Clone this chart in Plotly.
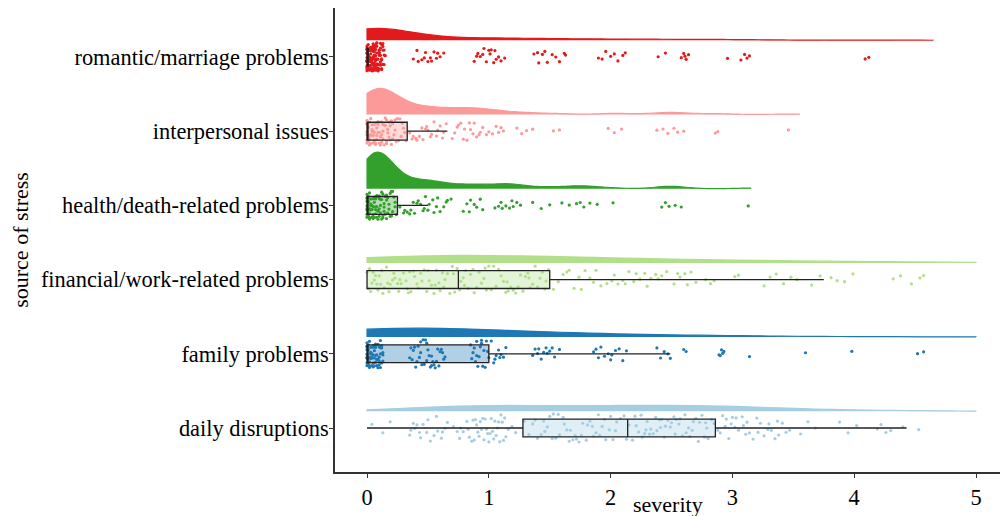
import plotly.graph_objects as go

categories = ["daily disruptions", "family problems", "financial/work-related problems",
              "health/death-related problems", "interpersonal issues", "romantic/marriage problems"]
colors = ["#A6CEE3", "#1F78B4", "#B2DF8A", "#33A02C", "#FB9A99", "#E31A1C"]
x_ticks = [0, 1, 2, 3, 4, 5]

# box statistics (same order as categories)
box_q1 = [1.28, 0.0, 0.0, 0.0, 0.0, 0.0]
box_median = [2.14, 0.0, 0.75, 0.0, 0.0, 0.0]
box_q3 = [2.86, 1.0, 1.5, 0.25, 0.33, 0.01]
box_lower = [0.0, 0.0, 0.0, 0.0, 0.0, 0.0]
box_upper = [4.43, 2.49, 3.75, 0.5, 0.66, 0.01]
density_end = [5.0, 5.0, 5.0, 3.15, 3.55, 4.65]

daily = [0.04, 0.13, 0.19,
         0.35, 0.38, 0.41, 0.44, 0.46, 0.39, 0.43, 0.36,
         0.49, 0.52, 0.55, 0.58, 0.61, 0.64, 0.66, 0.50, 0.57, 0.62,
         0.71, 0.74, 0.77, 0.79, 0.82, 0.84, 0.86, 0.88, 0.89, 0.91, 0.92, 0.94, 0.95, 0.97, 0.99, 1.00,
         1.02, 1.03, 1.05, 1.07, 1.08, 1.10, 1.12, 1.14, 1.16, 1.19, 1.22, 0.83, 0.90, 0.96, 1.01, 1.06,
         1.11, 0.76, 0.93, 1.04, 0.87, 1.13, 0.98, 1.09,
         1.29, 1.33, 1.36, 1.40, 1.43, 1.46, 1.50, 1.53, 1.55, 1.58, 1.61, 1.64, 1.66, 1.69, 1.72, 1.74,
         1.77, 1.80, 1.83, 1.85, 1.88, 1.91, 1.93, 1.96, 1.99, 2.02, 2.05, 2.08, 2.11, 2.13, 1.38, 1.48,
         1.57, 1.67, 1.76, 1.86, 1.95, 2.04, 1.62, 1.81, 1.71, 1.52, 1.90, 2.00, 1.45,
         2.15, 2.18, 2.20, 2.23, 2.25, 2.28, 2.30, 2.32, 2.35, 2.37, 2.40, 2.42, 2.44, 2.47, 2.49, 2.52,
         2.54, 2.57, 2.59, 2.62, 2.64, 2.67, 2.70, 2.72, 2.75, 2.78, 2.80, 2.83, 2.85, 2.21, 2.33, 2.45,
         2.56, 2.68, 2.79, 2.26, 2.38, 2.50, 2.61, 2.73, 2.41, 2.29, 2.65, 2.53, 2.77,
         2.88, 2.90, 2.92, 2.94, 2.97, 3.00, 3.02, 3.05, 3.08, 3.11, 3.14, 3.17, 3.20, 3.23, 3.26, 3.29,
         3.32, 3.35, 3.38, 3.41, 3.44, 3.47, 2.95, 3.03, 3.12, 3.21, 3.30, 2.99, 3.09, 3.37,
         3.56, 3.62, 3.68, 3.88, 3.95, 4.02, 4.19, 4.22, 4.26, 4.30, 4.40, 4.53]

family = [0.00, 0.02, 0.05, 0.08, 0.11, 0.01, 0.04, 0.13, 0.07, 0.00, 0.10, 0.03, 0.06, 0.12, 0.02,
          0.09, 0.00, 0.05, 0.11, 0.01, 0.08, 0.04, 0.00, 0.13, 0.06, 0.03, 0.10, 0.02, 0.07, 0.00,
          0.12, 0.05, 0.09, 0.01, 0.04, 0.11, 0.00, 0.06, 0.08, 0.03, 0.13, 0.02, 0.07, 0.00, 0.10,
          0.05, 0.01, 0.09, 0.04, 0.12, 0.00, 0.06, 0.03, 0.11, 0.08, 0.02, 0.00, 0.07, 0.05, 0.10,
          0.35, 0.37, 0.39, 0.41, 0.43, 0.45, 0.47, 0.49, 0.51, 0.53, 0.55, 0.57, 0.59, 0.61, 0.63,
          0.36, 0.40, 0.44, 0.48, 0.52, 0.56, 0.60, 0.38, 0.42, 0.46, 0.50, 0.54, 0.58, 0.62, 0.64,
          0.44, 0.49, 0.53,
          0.85, 0.87, 0.88, 0.90, 0.91, 0.93, 0.94, 0.96, 0.97, 0.99, 0.86, 0.89, 0.92, 0.95, 0.98,
          1.00, 0.90, 0.94,
          1.02, 1.04, 1.06, 1.08, 1.10, 1.12, 1.14, 1.05, 1.09,
          1.36, 1.38, 1.41, 1.43, 1.45, 1.48, 1.50, 1.52, 1.54, 1.40, 1.47, 1.58,
          1.86, 1.88, 1.92, 1.95, 1.98, 2.01, 2.04, 2.07, 2.10, 2.13, 1.90, 2.00,
          2.38, 2.41, 2.44, 2.47, 2.49, 2.60, 2.62, 2.90, 2.91, 2.92, 2.89, 2.93, 3.14, 3.60, 3.98,
          4.52, 4.57]

financial = [0.01, 0.05, 0.03, 0.09, 0.12, 0.00, 0.16, 0.07, 0.21, 0.14, 0.25, 0.19, 0.04, 0.28, 0.11,
             0.33, 0.23, 0.38, 0.08, 0.30, 0.42, 0.17, 0.36, 0.47, 0.26, 0.51, 0.02, 0.44, 0.55, 0.32,
             0.60, 0.13, 0.49, 0.64, 0.39, 0.68, 0.57, 0.22, 0.72, 0.62, 0.77, 0.45, 0.81, 0.70, 0.35,
             0.85, 0.66, 0.90, 0.79, 0.53, 0.94, 0.74, 0.98, 0.87, 0.59, 1.02, 0.83, 1.06, 0.92, 1.10,
             0.96, 1.14, 0.71, 1.18, 1.04, 1.22, 0.88, 1.26, 1.12, 1.30, 1.00, 1.34, 1.20, 1.38, 0.80,
             1.42, 1.16, 1.46, 1.28, 1.49, 1.08, 1.36, 0.06, 1.24, 0.41, 1.32, 0.27, 1.44, 0.63, 1.40,
             0.18, 0.97, 0.50, 1.47, 0.76, 0.10, 1.15, 0.56, 0.34, 1.33,
             1.53, 1.57, 1.61, 1.66, 1.70, 1.74, 1.79, 1.83, 1.88, 1.92, 1.97, 2.01, 2.06, 2.10, 2.15,
             2.19, 2.24, 2.28, 2.33, 2.37, 2.42, 2.46, 1.64, 1.86, 2.03, 2.21, 2.39, 1.76, 2.12, 2.30,
             2.52, 2.57, 2.61, 2.66, 2.70, 2.78, 2.85, 3.02, 3.05, 3.26, 3.31, 3.36, 3.42, 3.48, 3.53,
             3.65, 3.72, 2.55, 2.63, 2.82,
             3.81, 3.86, 3.92, 3.99, 4.32, 4.38, 4.47, 4.54, 4.57]

health = [0.00, 0.02, 0.04, 0.07, 0.10, 0.01, 0.13, 0.05, 0.16, 0.03, 0.20, 0.08, 0.00, 0.11, 0.23,
          0.06, 0.14, 0.02, 0.18, 0.09, 0.00, 0.12, 0.04, 0.21, 0.07, 0.15, 0.01, 0.10, 0.24, 0.05,
          0.17, 0.03, 0.08, 0.00, 0.13, 0.19, 0.06, 0.11, 0.02, 0.22, 0.09, 0.00, 0.14, 0.04, 0.16,
          0.07, 0.01, 0.12, 0.20, 0.05, 0.10, 0.03, 0.00, 0.18, 0.08, 0.13, 0.02, 0.23, 0.06, 0.15,
          0.00, 0.11, 0.04, 0.09, 0.17, 0.01, 0.07, 0.21, 0.03, 0.12, 0.05, 0.00, 0.14, 0.08, 0.19,
          0.02, 0.10, 0.06, 0.16, 0.00,
          0.27, 0.30, 0.33, 0.36, 0.38, 0.41, 0.44, 0.46, 0.48, 0.51, 0.54, 0.57, 0.60, 0.63, 0.66,
          0.69, 0.31, 0.39, 0.47, 0.55, 0.42, 0.35, 0.50, 0.58, 0.65,
          0.79, 0.82, 0.85, 0.88, 0.90, 0.93, 0.95, 0.84,
          1.05, 1.08, 1.11, 1.14, 1.17, 1.20, 1.23, 1.26, 1.10, 1.19,
          1.36, 1.43, 1.50, 1.60, 1.66, 1.72, 1.78, 1.83, 1.89, 1.75, 2.02, 2.42, 2.45, 2.48, 2.53,
          2.58, 3.13]

interpersonal = [0.00, 0.02, 0.05, 0.08, 0.11, 0.03, 0.14, 0.18, 0.01, 0.07, 0.21, 0.10, 0.04, 0.25, 0.13,
                 0.00, 0.16, 0.06, 0.28, 0.09, 0.02, 0.19, 0.12, 0.31, 0.05, 0.00, 0.15, 0.08, 0.23, 0.03,
                 0.11, 0.17, 0.01, 0.26, 0.07, 0.20, 0.04, 0.13, 0.00, 0.30, 0.09, 0.16, 0.02, 0.22, 0.06,
                 0.12, 0.27, 0.01, 0.18, 0.05, 0.10, 0.00, 0.24, 0.14, 0.03, 0.08, 0.19, 0.32, 0.06, 0.11,
                 0.00, 0.15, 0.04, 0.21, 0.09, 0.02, 0.17, 0.07, 0.29, 0.13, 0.01, 0.05, 0.10, 0.00, 0.23,
                 0.03, 0.16, 0.08, 0.12, 0.20,
                 0.35, 0.38, 0.40, 0.43, 0.45, 0.48, 0.50, 0.52, 0.55, 0.57, 0.60, 0.62, 0.65, 0.37, 0.46,
                 0.53, 0.58, 0.41, 0.63, 0.49,
                 0.70, 0.72, 0.75, 0.77, 0.80, 0.82, 0.85, 0.87, 0.90, 0.92, 0.74, 0.79, 0.84, 0.88, 0.93,
                 0.95, 0.98, 1.00, 1.03, 1.06, 1.08, 1.10, 1.12,
                 1.23, 1.27, 1.31, 1.36, 1.53, 1.58, 1.98, 2.03, 2.09, 2.38, 2.43, 2.47, 2.52, 2.55, 2.60,
                 2.86, 2.88, 3.46]

romantic = [0.00, 0.01, 0.03, 0.05, 0.02, 0.08, 0.11, 0.04, 0.00, 0.06, 0.13, 0.09, 0.01, 0.07, 0.03,
            0.12, 0.00, 0.05, 0.10, 0.02, 0.14, 0.06, 0.01, 0.09, 0.04, 0.00, 0.11, 0.07, 0.03, 0.08,
            0.02, 0.13, 0.05, 0.00, 0.10, 0.06, 0.01, 0.12, 0.04, 0.09, 0.03, 0.00, 0.07, 0.15, 0.02,
            0.05, 0.11, 0.08, 0.01, 0.06, 0.00, 0.04, 0.13, 0.09, 0.02, 0.07, 0.10, 0.03, 0.00, 0.12,
            0.05, 0.08, 0.01, 0.06, 0.14, 0.04, 0.00, 0.09, 0.02, 0.11, 0.07, 0.03, 0.05, 0.00, 0.10,
            0.01, 0.08, 0.06, 0.13, 0.04, 0.02, 0.00, 0.09, 0.12, 0.05, 0.03, 0.07, 0.01, 0.11, 0.06,
            0.00, 0.04, 0.08, 0.02, 0.10, 0.14, 0.05, 0.00, 0.03, 0.07, 0.01, 0.09, 0.06, 0.12, 0.04,
            0.00, 0.02, 0.08, 0.11, 0.05,
            0.38, 0.42, 0.45, 0.47, 0.50, 0.52, 0.55, 0.57, 0.60, 0.48, 0.41, 0.63, 0.53, 0.58,
            0.88, 0.91, 0.93, 0.96, 0.98, 1.00, 1.02, 1.04, 1.06, 1.08, 1.10, 0.95, 1.13, 1.01, 0.90, 1.05,
            1.37, 1.40, 1.44, 1.48, 1.52, 1.55, 1.58, 1.62, 1.46, 1.63, 1.41,
            1.90, 1.93, 1.96, 2.00, 2.03, 2.06, 2.10, 2.12,
            2.39, 2.45, 2.58, 2.60, 2.62, 2.64, 2.61, 2.96, 3.07, 3.10, 3.12, 3.14, 4.09, 4.12]

values = [daily, family, financial, health, interpersonal, romantic]

# styling
bandwidths = [0.45, 0.7, 0.75, 0.11, 0.13, 0.3]
density_height = [0.16, 0.24, 0.2, 0.98, 0.7, 0.32]
density_offset = 0.225
FONT = "Liberation Serif"


def rgba(hex_color, a):
    h = hex_color.lstrip("#")
    r, g, b = int(h[0:2], 16), int(h[2:4], 16), int(h[4:6], 16)
    return f"rgba({r},{g},{b},{a})"


fig = go.Figure()

for i, vals in enumerate(values):
    fig.add_trace(go.Violin(
        x=vals, y0=i + density_offset, orientation="h", side="positive",
        width=density_height[i], scalemode="width", spanmode="manual",
        span=[0, density_end[i]], bandwidth=bandwidths[i], points=False,
        line=dict(color=colors[i], width=1.2), fillcolor=colors[i], opacity=1,
        hoverinfo="skip", showlegend=False, name=categories[i],
    ))

for i, vals in enumerate(values):
    fig.add_trace(go.Box(
        x=vals, y0=i, orientation="h", boxpoints="all", jitter=1, pointpos=0,
        width=0.38, fillcolor="rgba(0,0,0,0)",
        line=dict(color="rgba(0,0,0,0)", width=0), whiskerwidth=0,
        marker=dict(color=colors[i], size=3.2, line=dict(width=0)),
        showlegend=False, name=categories[i],
    ))
    fig.add_trace(go.Box(
        y=[i], q1=[box_q1[i]], median=[box_median[i]], q3=[box_q3[i]],
        lowerfence=[box_lower[i]], upperfence=[box_upper[i]], orientation="h",
        width=0.24, fillcolor=rgba(colors[i], 0.35),
        line=dict(color="#222222", width=1.3), whiskerwidth=0,
        boxpoints=False, showlegend=False, name=categories[i],
    ))

axis_common = dict(
    showline=True, linecolor="#333333", linewidth=1.5, ticks="outside", ticklen=4,
    tickcolor="#333333", tickwidth=1, showgrid=False, zeroline=False,
    tickfont=dict(family=FONT, size=22.4, color="black"),
)

fig.update_layout(
    width=1003, height=516,
    margin=dict(l=335, r=3, t=8, b=44),
    paper_bgcolor="white", plot_bgcolor="white",
    showlegend=False,
    xaxis=dict(range=[-0.263, 5.197], tickvals=x_ticks, **axis_common),
    yaxis=dict(type="linear", range=[-0.593, 5.66], tickvals=list(range(len(categories))),
               ticktext=categories, ticklabelstandoff=-4, **axis_common),
    annotations=[
        dict(text="severity", xref="paper", yref="paper", x=0.5, y=-0.071,
             xanchor="center", yanchor="middle", showarrow=False,
             font=dict(family=FONT, size=22, color="black")),
        dict(text="source of stress", xref="paper", yref="paper", x=-0.474, y=0.5,
             xanchor="center", yanchor="middle", showarrow=False, textangle=-90,
             font=dict(family=FONT, size=22, color="black")),
    ],
)

fig.write_html("out.html", config={"displayModeBar": False},
               post_script="document.body.style.margin='0';")
